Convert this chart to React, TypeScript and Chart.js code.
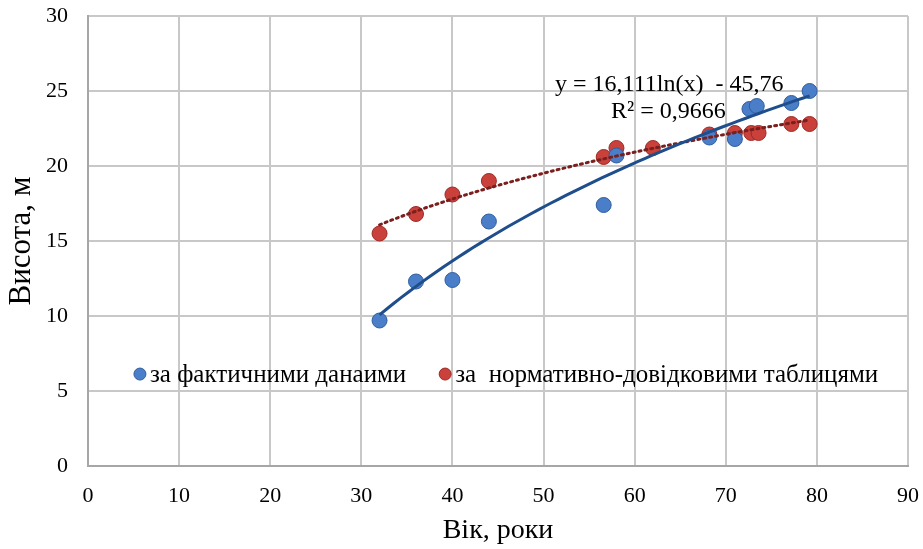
import React, { useEffect, useRef } from "react";
import { Chart, registerables } from "chart.js";

Chart.register(...registerables);

const actualAge = [32, 36, 40, 44, 56.6, 58, 68.2, 71, 72.6, 73.4, 77.2, 79.2];
const actualHeight = [9.7, 12.3, 12.4, 16.3, 17.4, 20.7, 21.9, 21.8, 23.8, 24.0, 24.2, 25.0];

const normAge = [32, 36, 40, 44, 56.6, 58, 62, 68.2, 71, 72.8, 73.6, 77.2, 79.2];
const normHeight = [15.5, 16.8, 18.1, 19.0, 20.6, 21.2, 21.2, 22.1, 22.2, 22.2, 22.2, 22.8, 22.8];

const actualLabel = "за фактичними данаими";
const normLabel = "за  нормативно-довідковими таблицями";
const equationText = "y = 16,111ln(x)  - 45,76";
const r2Text = "R² = 0,9666";
const trendA = 16.111;
const trendB = -45.76;

const xTicks = [0, 10, 20, 30, 40, 50, 60, 70, 80, 90];
const yTicks = [0, 5, 10, 15, 20, 25, 30];

const FONT = "'Liberation Serif', 'Times New Roman', serif";

function logFit(xs: number[], ys: number[]) {
  const n = xs.length;
  const lx = xs.map((v) => Math.log(v));
  const mx = lx.reduce((a, b) => a + b, 0) / n;
  const my = ys.reduce((a, b) => a + b, 0) / n;
  let sxy = 0, sxx = 0;
  for (let i = 0; i < n; i++) {
    sxy += (lx[i] - mx) * (ys[i] - my);
    sxx += (lx[i] - mx) * (lx[i] - mx);
  }
  const a = sxy / sxx;
  return { a, b: my - a * mx };
}

function trendPoints(a: number, b: number, x0: number, x1: number) {
  const pts: { x: number; y: number }[] = [];
  const steps = 60;
  for (let i = 0; i <= steps; i++) {
    const x = x0 + ((x1 - x0) * i) / steps;
    pts.push({ x, y: a * Math.log(x) + b });
  }
  return pts;
}

const overlayPlugin = {
  id: "overlay",
  afterDatasetsDraw(chart: any) {
    const { ctx, scales } = chart;
    const xs = scales.x;
    const ys = scales.y;
    ctx.save();
    // equation
    ctx.fillStyle = "#000000";
    ctx.font = `24px ${FONT}`;
    ctx.textBaseline = "middle";
    ctx.textAlign = "center";
    ctx.fillText(equationText, xs.getPixelForValue(63.8), ys.getPixelForValue(25.4));
    ctx.fillText(r2Text, xs.getPixelForValue(63.7), ys.getPixelForValue(23.6));
    // legend
    const ly = ys.getPixelForValue(6.13);
    const items = [
      { x: 5.7, label: actualLabel, fill: "#4a7ec8", stroke: "#2f5d9e" },
      { x: 39.2, label: normLabel, fill: "#c9413a", stroke: "#9c2a25" },
    ];
    ctx.textAlign = "left";
    ctx.font = `25px ${FONT}`;
    for (const it of items) {
      const px = xs.getPixelForValue(it.x);
      ctx.beginPath();
      ctx.arc(px, ly, 6, 0, Math.PI * 2);
      ctx.fillStyle = it.fill;
      ctx.fill();
      ctx.lineWidth = 1;
      ctx.strokeStyle = it.stroke;
      ctx.stroke();
      ctx.fillStyle = "#000000";
      ctx.fillText(it.label, px + 10, ly + 1);
    }
    ctx.restore();
  },
};

export default function App() {
  const ref = useRef<HTMLCanvasElement | null>(null);

  useEffect(() => {
    document.body.style.margin = "0";
    const canvas = ref.current;
    if (!canvas) return;
    const nf = logFit(normAge, normHeight);
    const chart = new Chart(canvas, {
      type: "scatter",
      data: {
        datasets: [
          {
            label: "trend-actual",
            data: trendPoints(trendA, trendB, actualAge[0], actualAge[actualAge.length - 1]),
            showLine: true,
            borderColor: "#1f4e8c",
            borderWidth: 3,
            pointRadius: 0,
            order: 0,
          } as any,
          {
            label: "trend-norm",
            data: trendPoints(nf.a, nf.b, normAge[0], normAge[normAge.length - 1]),
            showLine: true,
            borderColor: "#7a1e1e",
            borderWidth: 3,
            borderDash: [2, 4],
            borderCapStyle: "round",
            pointRadius: 0,
            order: 0,
          } as any,
          {
            label: actualLabel,
            data: actualAge.map((x, i) => ({ x, y: actualHeight[i] })),
            backgroundColor: "#4a7ec8",
            borderColor: "#2f5d9e",
            borderWidth: 1,
            pointRadius: 7.5,
            order: 1,
          },
          {
            label: normLabel,
            data: normAge.map((x, i) => ({ x, y: normHeight[i] })),
            backgroundColor: "#c9413a",
            borderColor: "#9c2a25",
            borderWidth: 1,
            pointRadius: 7.5,
            order: 1,
          },
        ],
      },
      options: {
        animation: false,
        responsive: false,
        maintainAspectRatio: false,
        layout: { padding: { top: 16, right: 15, left: 0, bottom: 0 } },
        plugins: {
          legend: { display: false },
          tooltip: { enabled: false },
        },
        scales: {
          x: {
            type: "linear",
            min: 0,
            max: 90,
            afterBuildTicks: (s: any) => {
              s.ticks = xTicks.map((v) => ({ value: v }));
            },
            afterFit: (s: any) => {
              s.height = 83;
              s.paddingRight = 0;
              s.paddingLeft = 0;
            },
            grid: { color: "#c8c8c8", lineWidth: 2, drawTicks: false },
            border: { color: "#a6a6a6", width: 2 },
            ticks: {
              color: "#000000",
              font: { family: FONT, size: 22 },
              padding: 17,
              maxRotation: 0,
            },
            title: {
              display: true,
              text: "Вік, роки",
              color: "#000000",
              font: { family: FONT, size: 28 },
              padding: { top: 0, bottom: 2 },
            },
          },
          y: {
            type: "linear",
            min: 0,
            max: 30,
            afterBuildTicks: (s: any) => {
              s.ticks = yTicks.map((v) => ({ value: v }));
            },
            afterFit: (s: any) => {
              s.width = 88;
              s.paddingTop = 0;
              s.paddingBottom = 0;
            },
            grid: { color: "#c8c8c8", lineWidth: 2, drawTicks: false },
            border: { color: "#a6a6a6", width: 2 },
            ticks: {
              color: "#000000",
              font: { family: FONT, size: 22 },
              padding: 20,
            },
            title: {
              display: true,
              text: "Висота, м",
              color: "#000000",
              font: { family: FONT, size: 31 },
              padding: { top: 3, bottom: 0 },
            },
          },
        },
      },
      plugins: [overlayPlugin],
    });
    return () => chart.destroy();
  }, []);

  return (
    <div style={{ width: 923, height: 549 }}>
      <canvas ref={ref} width={923} height={549} style={{ width: 923, height: 549, display: "block" }} />
    </div>
  );
}
